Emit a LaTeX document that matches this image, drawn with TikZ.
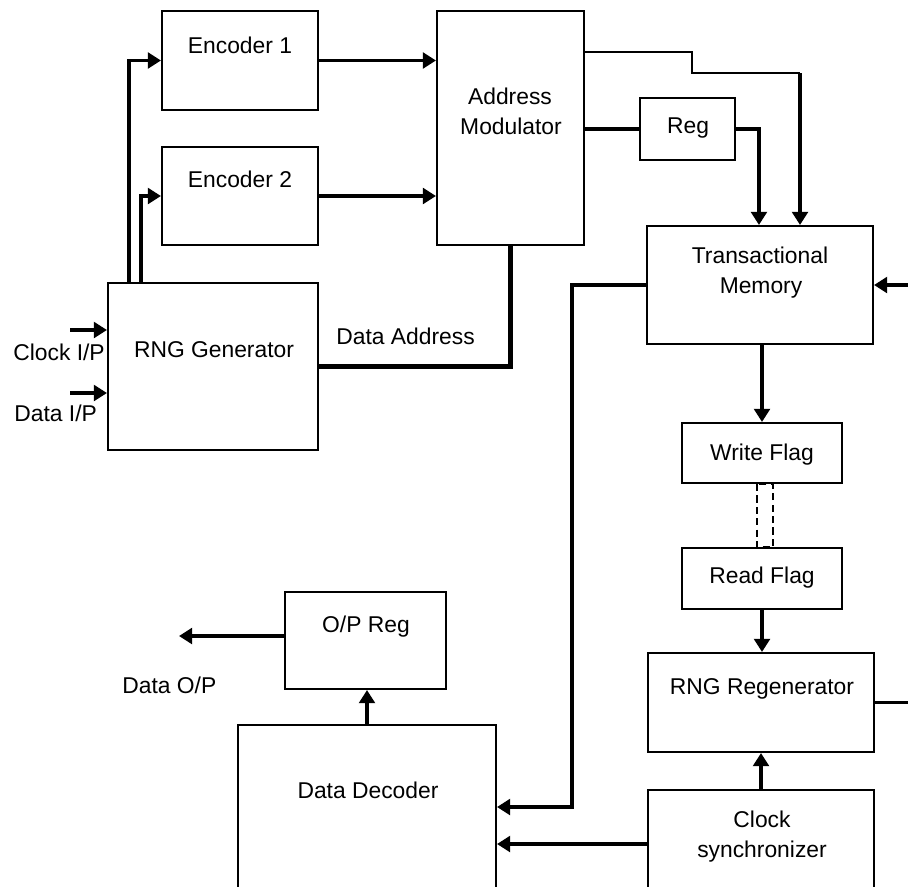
\documentclass[tikz,border=0pt]{standalone}
\usepackage{fontspec}
\setmainfont{Liberation Sans}
\usetikzlibrary{arrows.meta,calc}

\begin{document}
\begin{tikzpicture}[x=0.02cm,y=-0.02cm,
  font=\fontsize{13}{16}\selectfont,
  box/.style={draw,line width=1.2pt,inner sep=0pt},
  conn/.style={line width=1.8pt,-{Triangle[length=7.5pt,width=9pt]}},
  wire/.style={line width=1.8pt},
  bus/.style={line width=2.8pt},
  lbl/.style={anchor=base,inner sep=0pt}]
\clip (0,0) rectangle (908,886);

\node[box,minimum width=3.12cm,minimum height=1.98cm] (enc1) at (240,60.5) {};
\node[box,minimum width=3.12cm,minimum height=1.96cm] (enc2) at (240,196) {};
\node[box,minimum width=4.2cm,minimum height=3.34cm] (rng) at (213,366.5) {};
\node[box,minimum width=2.94cm,minimum height=4.68cm] (am) at (510.5,128) {};
\node[box,minimum width=1.9cm,minimum height=1.24cm] (reg) at (687.5,129) {};
\node[box,minimum width=4.52cm,minimum height=2.36cm] (tm) at (760,285) {};
\node[box,minimum width=3.2cm,minimum height=1.2cm] (wf) at (762,453) {};
\node[box,minimum width=3.2cm,minimum height=1.22cm] (rf) at (762,578.5) {};
\node[box,minimum width=4.52cm,minimum height=1.98cm] (rr) at (761,702.5) {};
\node[box,minimum width=4.52cm,minimum height=2.16cm] (cs) at (761,844) {};
\node[box,minimum width=3.22cm,minimum height=1.94cm] (op) at (365.5,640.5) {};
\node[box,minimum width=5.16cm,minimum height=4cm] (dd) at (367,825) {};

\node[lbl] (enc1t) at (240,53) {Encoder 1};
\node[lbl] (enc2t) at (240,187) {Encoder 2};
\node[lbl] (rngt) at (214,357) {RNG Generator};
\node[lbl] (amt1) at (510,104) {Address};
\node[lbl] (amt2) at (511,134) {Modulator};
\node[lbl] (regt) at (688,133) {Reg};
\node[lbl] (tmt1) at (760,263) {Transactional};
\node[lbl] (tmt2) at (761,293) {Memory};
\node[lbl] (wft) at (762,460) {Write Flag};
\node[lbl] (rft) at (762,583) {Read Flag};
\node[lbl] (rrt) at (762,694) {RNG Regenerator};
\node[lbl] (cst1) at (762,827) {Clock};
\node[lbl] (cst2) at (762,857) {synchronizer};
\node[lbl] (opt) at (366,632) {O/P Reg};
\node[lbl] (ddt) at (368,798) {Data Decoder};
\node[lbl,anchor=base west] (dout) at (122,693) {Data O/P};
\node[lbl,anchor=base west] (addr) at (336,344) {Data Address};
\node[lbl,anchor=base west] (clkt) at (13,360) {Clock I/P};
\node[lbl,anchor=base west] (datt) at (14,421) {Data I/P};

\coordinate (clkin) at (70,330);
\coordinate (datin) at (70,393);
\coordinate (tap) at (800,73);
\coordinate (fbin) at (908,285);
\coordinate (bend) at (572,807);
\coordinate (outp) at (179,636);

\draw[conn] (clkin) -- (clkin -| rng.west);
\draw[conn] (datin) -- (datin -| rng.west);
\draw[conn] ($(rng.north west)+(22,0)$) |- (enc1.west);
\draw[conn] ($(rng.north west)+(34,0)$) |- (enc2.west);
\draw[conn] (enc1.east) -- (enc1.east -| am.west);
\draw[conn] (enc2.east) -- (enc2.east -| am.west);
\draw[bus] (rng.east) -| (am.south);
\draw[wire] (am.east |- reg.west) -- (reg.west);
\draw[conn] (reg.east) -| ($(tm.north west)+(113,0)$);
\draw[line width=0.7pt] ($(am.north east)+(0,42)$) -| (692,73) -- (tap);
\draw[conn] (tap) -- (tap |- tm.north);
\draw[conn] (fbin) -- (tm.east);
\draw[conn] (tm.west) -| (bend) -- (bend -| dd.east);
\draw[conn] (tm.south -| wf.north) -- (wf.north);
\draw[line width=1.2pt,dash pattern=on 4pt off 2.5pt] ($(wf.south)+(-5,0)$) rectangle ($(rf.north)+(11,0)$);
\draw[conn] (rf.south) -- (rf.south |- rr.north);
\draw[conn] (cs.north) -- (rr.south);
\draw[wire] (rr.east) -- (rr.east -| fbin);
\draw[conn] (cs.west) -- (cs.west -| dd.east);
\draw[conn] (dd.north) -- (dd.north |- op.south);
\draw[conn] (op.west |- outp) -- (outp);
\end{tikzpicture}
\end{document}
